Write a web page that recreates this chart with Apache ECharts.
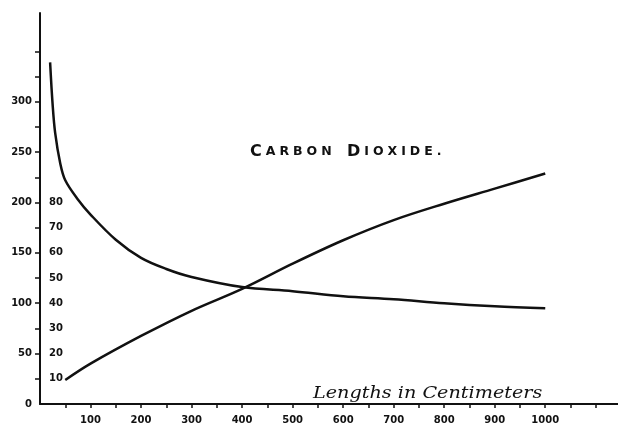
<!DOCTYPE html>
<html>
<head>
<meta charset="utf-8">
<script src="https://cdn.jsdelivr.net/npm/echarts@6/dist/echarts.min.js"></script>
<style>
  html, body { margin: 0; padding: 0; background: #fff; }
  #chart { width: 618px; height: 433px; }
</style>
</head>
<body>
<div id="chart"></div>
<script>
// Falling curve, read on the outer scale (0–300)
const fallLengths = [20, 25, 30, 40, 50, 75, 100, 150, 200, 250, 300, 400, 500, 600, 700, 800, 900, 1000];
const fallValues = [339, 297, 269, 239, 222, 203, 188, 163, 145, 134, 126, 116, 112, 107, 104, 100, 97, 95];

// Rising curve, read on the inner scale (10–80)
const riseLengths = [50, 100, 200, 300, 400, 500, 600, 700, 800, 900, 1000];
const riseValues = [9.5, 16, 27, 37, 45.7, 55.7, 65, 73, 79.5, 85.5, 91.5];

// Tick labels
const xLabels = [100, 200, 300, 400, 500, 600, 700, 800, 900, 1000];
const xTicks = [50, 100, 150, 200, 250, 300, 350, 400, 450, 500, 550, 600, 650, 700, 750, 800, 850, 900, 950, 1000, 1050, 1100];
const outerLabels = [0, 50, 100, 150, 200, 250, 300];
const outerTicks = [25, 50, 75, 100, 125, 150, 175, 200, 225, 250, 275, 300, 325, 350];
const innerLabels = [10, 20, 30, 40, 50, 60, 70, 80];

const titleFirst = ['C', 'ARBON'];
const titleSecond = ['D', 'IOXIDE.'];
const axisTitle = 'Lengths in Centimeters';

const INK = '#111';
const OUTER_MAX = 388;
const INNER_RATIO = 2.5;

// Small-caps title: each letter its own rich segment so it can be spaced out
function spaced(word, style) {
  return word.split('').map(ch => '{' + style + '|' + ch + '}').join('');
}
const titleText = spaced(titleFirst[0], 'b') + spaced(titleFirst[1], 's') + '{gap| }' +
                  spaced(titleSecond[0], 'b') + spaced(titleSecond[1], 's');

const tickFont = { fontFamily: 'DejaVu Sans', fontWeight: 'bold', fontSize: 10, color: INK };
const plain = v => String(v);

const chart = echarts.init(document.getElementById('chart'), null, { renderer: 'canvas' });
chart.setOption({
  backgroundColor: '#fff',
  animation: false,
  title: {
    left: 245,
    top: 139,
    text: titleText,
    textStyle: {
      rich: {
        b: { fontFamily: 'DejaVu Sans', fontSize: 16, color: INK, padding: [0, 4, 0, 0] },
        s: { fontFamily: 'DejaVu Sans', fontSize: 12.5, color: INK, padding: [0, 4, 0, 0] },
        gap: { fontFamily: 'DejaVu Sans', fontSize: 12.5, padding: [0, 7, 0, 0] }
      }
    }
  },
  graphic: [{
    type: 'text',
    left: 313,
    top: 386,
    scaleX: 1.2,
    style: {
      text: axisTitle,
      font: 'italic 16px "DejaVu Serif"',
      fill: INK
    }
  }],
  grid: { left: 40, right: 0, top: 13, bottom: 29, containLabel: false },
  xAxis: {
    type: 'value',
    min: 0,
    max: 1144,
    axisLine: { show: true, lineStyle: { color: INK, width: 2 } },
    axisTick: { show: true, customValues: xTicks, length: 4, lineStyle: { color: INK, width: 1.5 } },
    axisLabel: Object.assign({ customValues: xLabels, margin: 11, formatter: plain }, tickFont),
    splitLine: { show: false }
  },
  yAxis: [{
    type: 'value',
    min: 0,
    max: OUTER_MAX,
    position: 'left',
    axisLine: { show: true, onZero: false, lineStyle: { color: INK, width: 2 } },
    axisTick: { show: true, customValues: outerTicks, length: 5, lineStyle: { color: INK, width: 1.5 } },
    axisLabel: Object.assign({ customValues: outerLabels, margin: 8, formatter: plain }, tickFont),
    splitLine: { show: false }
  }, {
    type: 'value',
    min: 0,
    max: OUTER_MAX / INNER_RATIO,
    position: 'left',
    offset: 0,
    axisLine: { show: false },
    axisTick: { show: false },
    axisLabel: Object.assign({ customValues: innerLabels, inside: true, margin: 9, formatter: plain }, tickFont),
    splitLine: { show: false }
  }],
  series: [{
    type: 'line',
    yAxisIndex: 0,
    data: fallLengths.map((x, i) => [x, fallValues[i]]),
    smooth: 0.35,
    showSymbol: false,
    lineStyle: { color: INK, width: 2.5 }
  }, {
    type: 'line',
    yAxisIndex: 1,
    data: riseLengths.map((x, i) => [x, riseValues[i]]),
    smooth: 0.35,
    showSymbol: false,
    lineStyle: { color: INK, width: 2.5 }
  }]
});
</script>
</body>
</html>
